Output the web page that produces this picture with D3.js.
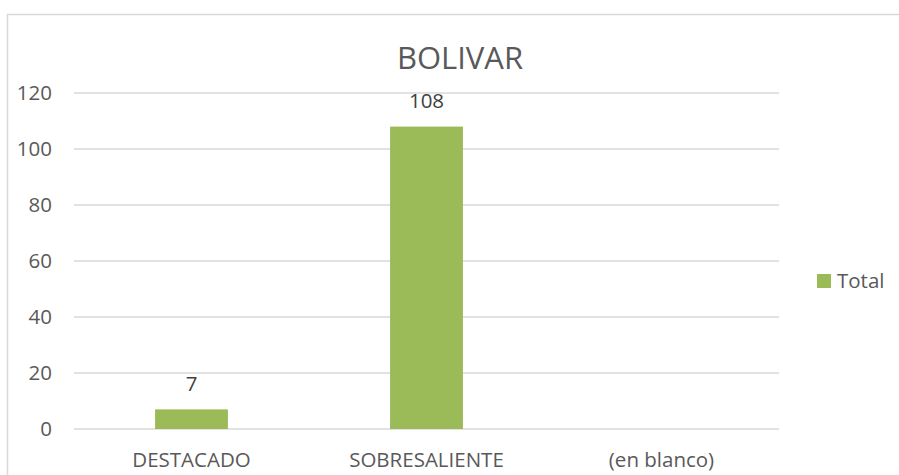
<!DOCTYPE html>
<html>
<head>
<meta charset="utf-8">
<script src="https://cdn.jsdelivr.net/npm/d3@7"></script>
<style>
  body { margin: 0; background: #fff; }
  svg { display: block; font-family: "Open Sans", sans-serif; }
</style>
</head>
<body>
<div id="chart"></div>
<script>
const categories = ["DESTACADO", "SOBRESALIENTE", "(en blanco)"];
const totals = [7, 108, null];
const yTicks = [0, 20, 40, 60, 80, 100, 120];
const seriesName = "Total";
const chartTitle = "BOLIVAR";

const width = 899, height = 475;
const textColor = "#595959";
const barColor = "#9bbb59";
const labelSize = "20.5px";

const svg = d3.select("#chart").append("svg")
    .attr("width", width)
    .attr("height", height);

// chart frame
svg.append("rect")
    .attr("x", 7.5).attr("y", 14.5)
    .attr("width", 900).attr("height", 470)
    .attr("fill", "#fff")
    .attr("stroke", "#d9d9d9")
    .attr("stroke-width", 1.5);

const x = d3.scaleBand()
    .domain(categories)
    .range([74, 779])
    .paddingInner(0.69)
    .paddingOuter(0.345);

const y = d3.scaleLinear()
    .domain([0, 120])
    .range([429, 93]);

// gridlines
svg.append("g")
    .selectAll("line")
    .data(yTicks)
    .enter().append("line")
    .attr("x1", 74).attr("x2", 779)
    .attr("y1", d => y(d)).attr("y2", d => y(d))
    .attr("stroke", "#d9d9d9")
    .attr("stroke-width", 1.3);

// y axis labels
const yAxis = svg.append("g")
    .attr("transform", "translate(52,0)")
    .call(d3.axisLeft(y).tickValues(yTicks).tickSize(0).tickPadding(0));
yAxis.select(".domain").remove();
yAxis.selectAll("text")
    .attr("fill", textColor)
    .style("font-size", labelSize)
    .style("font-family", "'Open Sans', sans-serif");

// x axis labels
const xAxis = svg.append("g")
    .attr("transform", "translate(0,467)")
    .call(d3.axisBottom(x).tickSize(0).tickPadding(0));
xAxis.select(".domain").remove();
xAxis.selectAll("text")
    .attr("fill", textColor)
    .attr("dy", "0")
    .style("font-size", labelSize)
    .style("font-family", "'Open Sans', sans-serif");

const barData = categories.map((c, i) => ({ cat: c, value: totals[i] }))
    .filter(d => d.value != null);

svg.append("g")
    .selectAll("rect")
    .data(barData)
    .enter().append("rect")
    .attr("x", d => x(d.cat))
    .attr("width", x.bandwidth())
    .attr("y", d => y(d.value))
    .attr("height", d => y(0) - y(d.value))
    .attr("fill", barColor);

// value labels
svg.append("g")
    .selectAll("text")
    .data(barData)
    .enter().append("text")
    .attr("x", d => x(d.cat) + x.bandwidth() / 2)
    .attr("y", d => y(d.value) - 18.5)
    .attr("text-anchor", "middle")
    .attr("fill", "#404040")
    .style("font-size", labelSize)
    .text(d => d.value);

// title
svg.append("text")
    .attr("x", 460)
    .attr("y", 69)
    .attr("text-anchor", "middle")
    .attr("fill", textColor)
    .style("font-size", "31px")
    .text(chartTitle);

// legend
svg.append("rect")
    .attr("x", 817).attr("y", 274)
    .attr("width", 14).attr("height", 14)
    .attr("fill", barColor);
svg.append("text")
    .attr("x", 837).attr("y", 288)
    .attr("fill", textColor)
    .style("font-size", labelSize)
    .text(seriesName);
</script>
</body>
</html>
